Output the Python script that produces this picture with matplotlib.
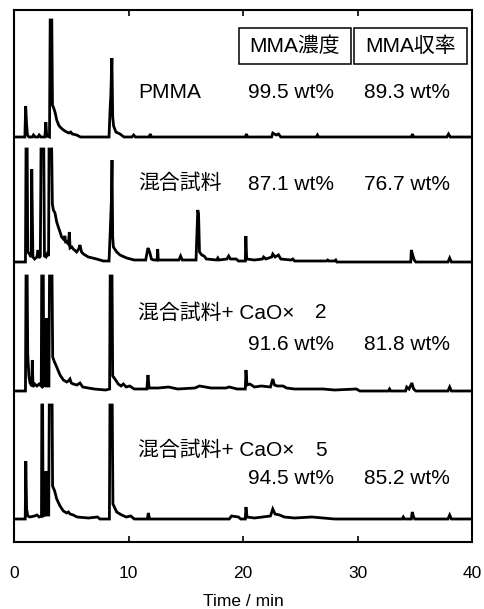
import matplotlib
matplotlib.use("Agg")
import matplotlib.pyplot as plt
from matplotlib.patches import Rectangle
import numpy as np

plt.rcParams['font.family'] = ['Liberation Sans', 'Noto Sans CJK JP', 'DejaVu Sans']

# ---------------- data (time / min, intensity / a.u.) ----------------
pmma_t = [0, 0.95, 1.02, 1.1, 1.18, 1.3, 1.6, 1.7, 1.85, 2.1, 2.2, 2.35, 2.7, 2.78, 2.86,
          3.1, 3.16, 3.3, 3.36, 3.5, 3.6, 3.73, 3.9, 4.02, 4.31, 4.6, 4.8, 4.95, 5.1, 5.47,
          5.8, 8.3, 8.4, 8.45, 8.55, 8.62, 8.7, 8.9, 9.26, 9.6, 10.3, 10.45, 10.6, 11.8,
          11.9, 12.0, 20.2, 20.3, 20.4, 22.5, 22.6, 22.9, 23.1, 23.3, 26.4, 26.5, 26.6,
          34.7, 34.8, 34.9, 37.8, 37.95, 38.1, 40]
pmma_i = [0, 0, 31, 12, 2, 0, 0, 2, 0, 0, 2, 0, 0, 15, 1,
          0, 117, 117, 32, 28, 24, 17, 12, 10, 7, 5, 4, 5, 3, 2,
          0, 0, 30, 40, 79, 20, 11, 5, 3, 0, 0, 2, 0, 0,
          3, 0, 0, 3, 0, 0, 4, 2, 3, 0, 0, 2, 0,
          0, 3, 0, 0, 3, 0, 0]

mix_t = [0, 1.0, 1.05, 1.15, 1.2, 1.35, 1.5, 1.55, 1.65, 1.8, 2.0, 2.1, 2.18, 2.3, 2.36,
         2.6, 2.66, 2.8, 2.9, 3.02, 3.06, 3.29, 3.35, 3.44, 3.58, 3.73, 3.87, 4.02, 4.16,
         4.31, 4.45, 4.5, 4.6, 4.75, 4.83, 4.9, 5.05, 5.18, 5.47, 5.65, 5.76, 5.9, 6.06,
         6.49, 7.22, 7.8, 8.3, 8.4, 8.5, 8.56, 8.62, 8.68, 8.97, 9.26, 9.84, 10.5, 11.5,
         11.6, 11.7, 11.85, 12.0, 12.2, 12.5, 12.55, 12.6, 13.0, 14.4, 14.55, 14.7, 15.9,
         15.95, 16.05, 16.12, 16.2, 16.4, 16.6, 16.8, 17.7, 17.8, 17.9, 18.6, 18.75, 18.9,
         19.4, 19.6, 20.2, 20.25, 20.32, 21.0, 21.7, 21.8, 22.0, 22.5, 22.6, 22.8, 23.1,
         23.3, 24.2, 24.35, 24.5, 27.3, 27.4, 27.5, 28.0, 28.1, 28.2, 34.65, 34.7, 34.8,
         34.95, 35.1, 37.9, 38.05, 38.2, 40]
mix_i = [0, 0, 113, 113, 10, 8, 5, 93, 5, 3, 5, 12, 4, 6, 113,
         113, 6, 5, 8, 6, 113, 113, 58, 52, 49, 40, 35, 30, 25,
         23, 26, 20, 20, 18, 30, 14, 15, 13, 10, 13, 17, 10, 8,
         5, 3, 1, 1, 29, 60, 102, 25, 15, 10, 7, 4, 2, 2,
         8, 14, 10, 3, 2, 2, 13, 2, 2, 2, 6, 2, 2,
         20, 52, 48, 10, 7, 6, 3, 2, 4, 2, 3, 6, 3,
         3, 1, 1, 26, 3, 2, 3, 5, 3, 5, 8, 5, 7,
         3, 2, 3, 1, 1, 2, 1, 1, 2, 0, 0, 12, 8,
         2, 0, 0, 4, 0, 0]

cao2_t = [0, 1.0, 1.05, 1.15, 1.2, 1.3, 1.4, 1.55, 1.6, 1.66, 1.8, 2.0, 2.2, 2.38, 2.42,
          2.56, 2.6, 2.75, 2.8, 2.86, 3.05, 3.1, 3.32, 3.38, 3.5, 3.73, 4.02, 4.31, 4.6,
          4.75, 4.89, 5.0, 5.18, 5.5, 5.76, 6.0, 7.0, 8.0, 8.35, 8.4, 8.56, 8.62, 8.82,
          9.1, 9.35, 9.55, 9.8, 10.1, 10.5, 11.6, 11.7, 11.8, 12.6, 13.5, 14.3, 15.8, 16.2,
          17.2, 18.5, 18.8, 19.5, 20.2, 20.26, 20.35, 20.6, 21.0, 21.6, 22.4, 22.6, 22.75,
          23.0, 23.5, 23.8, 24.5, 26.0, 27.0, 28.0, 29.9, 30.2, 32.7, 32.8, 32.9, 34.2,
          34.3, 34.5, 34.75, 34.9, 35.1, 37.9, 38.05, 38.2, 40]
cao2_i = [0, 0, 115, 115, 37, 15, 8, 5, 31, 4, 7, 5, 7, 5, 115,
          115, 5, 6, 73, 5, 5, 115, 115, 34, 30, 24, 16, 11, 9,
          10, 12, 8, 7, 6, 8, 4, 2, 1, 2, 115, 115, 15, 12,
          7, 5, 7, 4, 5, 2, 2, 16, 3, 3, 4, 2, 3, 5,
          3, 3, 4, 2, 2, 21, 6, 7, 4, 5, 4, 12, 6,
          5, 5, 3, 2, 2, 2, 1, 2, 0, 0, 2, 0, 0,
          4, 2, 8, 2, 0, 0, 4, 0, 0]

cao5_t = [0, 0.98, 1.03, 1.1, 1.2, 1.4, 1.8, 2.0, 2.2, 2.4, 2.43, 2.5, 2.54, 2.72, 2.8,
          2.86, 3.03, 3.08, 3.33, 3.37, 3.55, 3.73, 4.02, 4.31, 4.6, 4.75, 4.9, 5.18, 5.5,
          6.5, 7.3, 7.5, 8.33, 8.38, 8.58, 8.64, 8.97, 9.4, 9.8, 10.2, 10.5, 11.65, 11.73,
          11.85, 18.8, 19.0, 19.6, 19.8, 20.2, 20.26, 20.35, 21.0, 22.4, 22.6, 22.8, 23.2,
          23.6, 24.5, 26.0, 27.0, 28.0, 33.9, 34.0, 34.1, 34.7, 34.78, 34.9, 35.0, 37.9,
          38.05, 38.2, 40]
cao5_i = [0, 0, 58, 10, 3, 2, 3, 4, 2, 3, 114, 114, 3, 4, 48,
          4, 4, 114, 114, 33, 28, 20, 13, 8, 6, 7, 5, 4, 2,
          1, 2, 0, 0, 114, 114, 15, 7, 4, 2, 3, 0, 0, 6,
          0, 0, 3, 2, 0, 0, 12, 2, 1, 3, 10, 5, 4,
          2, 1, 2, 1, 0, 0, 2, 0, 0, 7, 2, 0, 0,
          4, 0, 0]

sample_names = ["PMMA", "混合試料", "混合試料+ CaO×", "混合試料+ CaO×"]
sample_mult = ["", "", "2", "5"]
mma_conc = ["99.5 wt%", "87.1 wt%", "91.6 wt%", "94.5 wt%"]
mma_yield = ["89.3 wt%", "76.7 wt%", "81.8 wt%", "85.2 wt%"]
header = ["MMA濃度", "MMA収率"]
x_ticks = [0, 10, 20, 30, 40]

# ---------------- figure ----------------
W, H = 485, 609
fig = plt.figure(figsize=(W / 100, H / 100), dpi=100)
ax = fig.add_axes([14 / W, 1 - 542 / H, (472 - 14) / W, (542 - 10) / H])

traces = [(pmma_t, pmma_i), (mix_t, mix_i), (cao2_t, cao2_i), (cao5_t, cao5_i)]
offsets = [405, 280, 151, 23]
for (t, i), off in zip(traces, offsets):
    ax.plot(t, np.asarray(i, float) + off, color="black", lw=2.0,
            solid_joinstyle="miter", clip_on=True)

ax.set_xlim(0, 40)
ax.set_ylim(0, 532)
ax.set_yticks([])
ax.set_xticks(x_ticks)
ax.tick_params(axis="x", direction="in", length=4.5, width=1.2, top=True,
               labelsize=12.5, pad=17)
for s in ax.spines.values():
    s.set_linewidth(1.5)
ax.set_xlabel("Time / min", fontsize=12.5, labelpad=10)


def fx(x):
    return x / W


def fy(y):
    return 1 - y / H


FS = 15
label_y = [92, 183, 313, 450]
value_y = [92, 184, 345, 479]
for k in range(4):
    fig.text(fx(138), fy(label_y[k]), sample_names[k], fontsize=FS, va="center", ha="left")
    if sample_mult[k]:
        fig.text(fx(315), fy(label_y[k]), sample_mult[k], fontsize=FS, va="center", ha="left")
    fig.text(fx(248), fy(value_y[k]), mma_conc[k], fontsize=FS, va="center", ha="left")
    fig.text(fx(364), fy(value_y[k]), mma_yield[k], fontsize=FS, va="center", ha="left")

# header boxes
boxes = [(239, 351), (354, 467)]
for (x0, x1), txt in zip(boxes, header):
    fig.patches.append(Rectangle((fx(x0), fy(64)), (x1 - x0) / W, 36 / H,
                                 transform=fig.transFigure, fill=False,
                                 edgecolor="black", lw=1.1))
    fig.text(fx((x0 + x1) / 2), fy(46), txt, fontsize=FS, va="center", ha="center")

fig.savefig("out.png", dpi=100)
